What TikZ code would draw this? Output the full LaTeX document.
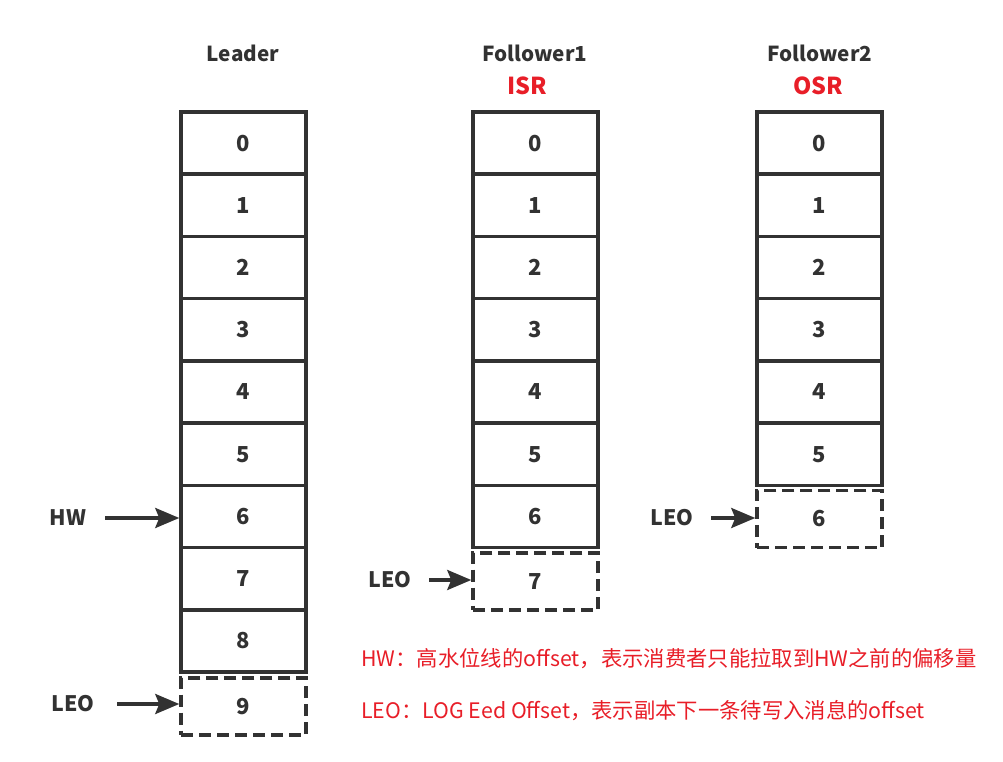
\documentclass[tikz,border=0pt]{standalone}
\usepackage{fontspec}
\setmainfont{Noto Sans CJK SC}
\usetikzlibrary{arrows.meta}
\definecolor{ink}{RGB}{50,50,50}
\definecolor{redtxt}{RGB}{232,30,40}
\begin{document}
\begin{tikzpicture}[x=0.75pt,y=-0.75pt,
  cell/.style={draw=ink,line width=2.6pt,minimum width=93.75pt,minimum height=46.65pt,inner sep=0pt,
    font=\fontsize{16.5}{18}\selectfont\bfseries,text=ink},
  dcell/.style={draw=ink,line width=2.6pt,dash pattern=on 9pt off 4.5pt,minimum width=93.75pt,minimum height=43pt,inner sep=0pt,
    font=\fontsize{16.5}{18}\selectfont\bfseries,text=ink},
  title/.style={font=\fontsize{15.5}{18}\selectfont\bfseries,text=ink,inner sep=0pt},
  redtitle/.style={font=\fontsize{17.5}{20}\selectfont\bfseries,text=redtxt,inner sep=0pt},
  lbl/.style={font=\fontsize{16}{18}\selectfont\bfseries,text=ink,inner sep=0pt},
  note/.style={font=\fontsize{16}{18}\selectfont,text=redtxt,inner sep=0pt,anchor=west},
  arr/.style={draw=ink,line width=2.6pt,-{Stealth[length=18pt,width=15pt,inset=3pt]}}]
\useasboundingbox (0,0) rectangle (1003,762);
% titles
\node[title] (tL) at (243,53) {Leader};
\node[title] (tF1) at (535,53) {Follower1};
\node[redtitle] (isr) at (527,86) {ISR};
\node[title] (tF2) at (820,53) {Follower2};
\node[redtitle] (osr) at (818,86) {OSR};
% Leader cells
\foreach \i in {0,...,8} {
  \node[cell] (L\i) at (243.5,{112+62.22*(\i+0.5)}) {\i};
}
\node[dcell] (L9) at (243.5,706.5) {9};
% Follower1 cells
\foreach \i in {0,...,6} {
  \node[cell] (F\i) at (535.5,{112+62.22*(\i+0.5)}) {\i};
}
\node[dcell] (F7) at (535.5,581.5) {7};
% Follower2 cells
\foreach \i in {0,...,5} {
  \node[cell] (G\i) at (819.5,{112+62.22*(\i+0.5)}) {\i};
}
\node[dcell] (G6) at (819.5,519) {6};
% pointer labels
\node[lbl] (hw) at (68,518) {HW};
\node[lbl] (leoL) at (73,704) {LEO};
\node[lbl] (leoF) at (390,580) {LEO};
\node[lbl] (leoG) at (672,518) {LEO};
\draw[arr,shorten <=14pt] (hw.east) -- (hw.east -| L6.west);
\draw[arr,shorten <=17pt] (leoL.east) -- (leoL.east -| L9.west);
\draw[arr,shorten <=13pt] (leoF.east) -- (leoF.east -| F7.west);
\draw[arr,shorten <=13pt] (leoG.east) -- (leoG.east -| G6.west);
% notes
\node[note] (n1) at (361,659) {HW：高水位线的offset，表示消费者只能拉取到HW之前的偏移量};
\node[note] (n2) at (361,711) {LEO：LOG Eed Offset，表示副本下一条待写入消息的offset};
\end{tikzpicture}
\end{document}
